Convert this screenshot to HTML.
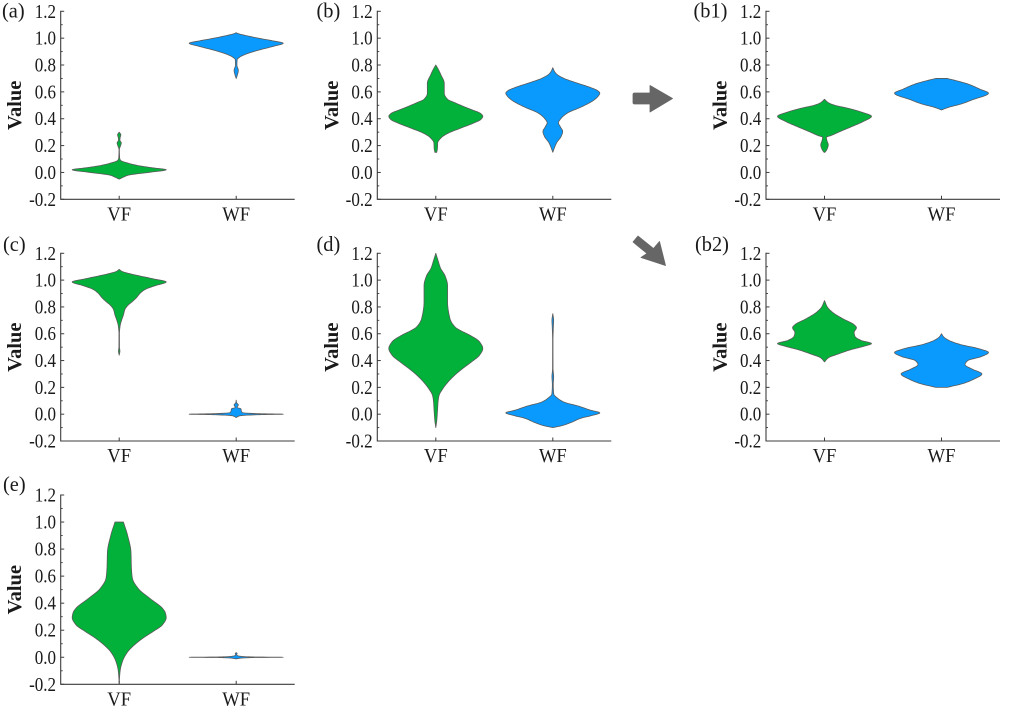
<!DOCTYPE html>
<html lang="en">
<head>
<meta charset="utf-8">
<title>Violin plots of VF and WF values</title>
<style>
html,body{margin:0;padding:0;background:#fff;}
svg{display:block;font-family:"Liberation Serif",serif;filter:blur(0.3px);}
</style>
</head>
<body>
<svg id="figure" xmlns="http://www.w3.org/2000/svg" width="1024" height="707" viewBox="0 0 1024 707">
  <rect x="0" y="0" width="1024" height="707" fill="#ffffff"/>
  <path d="M634.5 93H650V85.5L672.5 98.5L650 112V104H634.5Q633 104 633 102.5V94.5Q633 93 634.5 93Z" fill="#666666" stroke="#666666" stroke-width="0.8" stroke-linejoin="round"/>
  <path d="M638 236L653.5 248.5L659.5 241.5L665.5 265.5L641 257.5L647 253.5L633 242Z" fill="#666666" stroke="#666666" stroke-width="0.8" stroke-linejoin="round"/>
</svg>
<script>
// ---- chart data ----
const categories = ['VF', 'WF'];
const yMin = -0.2;
const yMax = 1.2;
const majorTicks = [-0.2, 0, 0.2, 0.4, 0.6, 0.8, 1.0, 1.2];
const minorTicks = [-0.1, 0.1, 0.3, 0.5, 0.7, 0.9, 1.1];
const tickLabels = ['-0.2', '0.0', '0.2', '0.4', '0.6', '0.8', '1.0', '1.2'];
const yTitle = 'Value';

// Each violin: values along the y axis and the relative density at each value.
const aVfValues = [-0.05, -0.04, -0.02, 0, 0.02, 0.035, 0.05, 0.07, 0.09, 0.11, 0.17, 0.2, 0.22, 0.24, 0.26, 0.28, 0.30];
const aVfDensity = [0, 0.06, 0.2, 0.62, 1, 0.7, 0.42, 0.18, 0.03, 0.01, 0.004, 0.03, 0.045, 0.015, 0.02, 0.035, 0];
const aWfValues = [0.70, 0.72, 0.76, 0.80, 0.84, 0.86, 0.88, 0.91, 0.94, 0.962, 0.98, 1.0, 1.02, 1.03, 1.04];
const aWfDensity = [0, 0.02, 0.045, 0.015, 0.02, 0.08, 0.2, 0.47, 0.8, 1, 0.78, 0.47, 0.2, 0.08, 0];

const bVfValues = [0.15, 0.18, 0.22, 0.26, 0.29, 0.33, 0.37, 0.395, 0.418, 0.44, 0.465, 0.49, 0.52, 0.545, 0.59, 0.63, 0.664, 0.726, 0.77, 0.80];
const bVfDensity = [0.02, 0.035, 0.04, 0.12, 0.25, 0.53, 0.82, 0.96, 1, 0.95, 0.78, 0.6, 0.4, 0.25, 0.18, 0.18, 0.18, 0.11, 0.05, 0];
const bWfValues = [0.15, 0.17, 0.22, 0.27, 0.305, 0.34, 0.37, 0.40, 0.44, 0.49, 0.54, 0.57, 0.59, 0.61, 0.63, 0.67, 0.70, 0.73, 0.75, 0.78];
const bWfDensity = [0, 0.02, 0.08, 0.18, 0.21, 0.16, 0.12, 0.17, 0.3, 0.62, 0.88, 0.97, 1, 0.95, 0.82, 0.48, 0.24, 0.09, 0.04, 0];

const b1VfValues = [0.15, 0.17, 0.205, 0.24, 0.262, 0.275, 0.30, 0.34, 0.38, 0.418, 0.45, 0.478, 0.50, 0.52, 0.545];
const b1VfDensity = [0.01, 0.05, 0.08, 0.05, 0.04, 0.14, 0.3, 0.57, 0.83, 1, 0.78, 0.5, 0.22, 0.08, 0];
const b1WfValues = [0.465, 0.485, 0.51, 0.54, 0.59, 0.62, 0.66, 0.68, 0.70];
const b1WfDensity = [0, 0.15, 0.42, 0.65, 1, 0.82, 0.55, 0.35, 0.12];

const cVfValues = [0.44, 0.47, 0.5, 0.6, 0.66, 0.70, 0.74, 0.78, 0.81, 0.84, 0.87, 0.90, 0.93, 0.96, 0.986, 1.01, 1.03, 1.05, 1.065, 1.08];
const cVfDensity = [0, 0.015, 0.006, 0.005, 0.02, 0.05, 0.09, 0.12, 0.18, 0.28, 0.37, 0.44, 0.55, 0.78, 1, 0.72, 0.45, 0.2, 0.06, 0];
const cWfValues = [-0.025, -0.012, -0.004, 0, 0.004, 0.012, 0.025, 0.04, 0.05, 0.07, 0.085, 0.105];
const cWfDensity = [0, 0.08, 0.45, 1, 0.45, 0.13, 0.11, 0.1, 0.02, 0.045, 0.01, 0];

const dVfValues = [-0.1, -0.05, 0.02, 0.1, 0.14, 0.19, 0.24, 0.29, 0.34, 0.39, 0.44, 0.49, 0.54, 0.59, 0.625, 0.65, 0.715, 0.84, 0.96, 1.03, 1.09, 1.15, 1.2];
const dVfDensity = [0, 0.02, 0.035, 0.05, 0.07, 0.15, 0.26, 0.4, 0.57, 0.76, 0.93, 1, 0.93, 0.72, 0.52, 0.41, 0.3, 0.25, 0.25, 0.2, 0.1, 0.045, 0];
const dWfValues = [-0.1, -0.085, -0.06, -0.03, -0.01, 0.01, 0.03, 0.06, 0.09, 0.12, 0.15, 0.22, 0.28, 0.34, 0.55, 0.65, 0.70, 0.75];
const dWfDensity = [0, 0.2, 0.4, 0.6, 0.83, 1, 0.8, 0.55, 0.24, 0.1, 0.02, 0.01, 0.018, 0.005, 0.004, 0.012, 0.018, 0];

const b2VfValues = [0.39, 0.42, 0.45, 0.48, 0.505, 0.527, 0.55, 0.58, 0.61, 0.645, 0.67, 0.71, 0.76, 0.80, 0.847];
const b2VfDensity = [0, 0.08, 0.3, 0.55, 0.82, 1, 0.78, 0.65, 0.63, 0.68, 0.62, 0.4, 0.17, 0.06, 0];
const b2WfValues = [0.2, 0.23, 0.26, 0.30, 0.335, 0.37, 0.40, 0.43, 0.46, 0.49, 0.52, 0.55, 0.575, 0.6];
const b2WfDensity = [0.12, 0.47, 0.68, 0.86, 0.66, 0.5, 0.56, 0.85, 1, 0.78, 0.4, 0.16, 0.05, 0];

const eVfValues = [-0.19, -0.1, -0.03, 0.04, 0.09, 0.14, 0.19, 0.24, 0.293, 0.33, 0.362, 0.436, 0.51, 0.585, 0.66, 0.78, 0.9, 1.0];
const eVfDensity = [0, 0.02, 0.07, 0.18, 0.32, 0.5, 0.72, 0.92, 1, 0.98, 0.92, 0.65, 0.4, 0.28, 0.26, 0.25, 0.18, 0.09];
const eWfValues = [-0.012, -0.006, -0.002, 0, 0.002, 0.006, 0.012, 0.02, 0.028, 0.034];
const eWfDensity = [0, 0.12, 0.4, 1, 0.4, 0.12, 0.03, 0.01, 0.02, 0];

// ---- drawing ----
const SVG_NS = 'http://www.w3.org/2000/svg';
const figure = document.getElementById('figure');
const MAX_HALF_WIDTH = 47;
const GREEN = '#02b13a';
const BLUE = '#0a99fd';

function line(parent, x1, y1, x2, y2, w) {
  const el = document.createElementNS(SVG_NS, 'line');
  el.setAttribute('x1', x1);
  el.setAttribute('y1', y1);
  el.setAttribute('x2', x2);
  el.setAttribute('y2', y2);
  el.setAttribute('stroke', '#3c3c3c');
  el.setAttribute('stroke-width', w);
  parent.appendChild(el);
  return el;
}

function label(parent, text, x, y, size, anchor, squeeze) {
  const el = document.createElementNS(SVG_NS, 'text');
  el.setAttribute('x', x);
  el.setAttribute('y', y);
  el.setAttribute('font-size', size);
  el.setAttribute('text-anchor', anchor);
  el.setAttribute('fill', '#1a1a1a');
  el.textContent = text;
  parent.appendChild(el);
  if (squeeze) {
    el.setAttribute('textLength', (el.getComputedTextLength() * squeeze).toFixed(2));
    el.setAttribute('lengthAdjust', 'spacingAndGlyphs');
  }
  return el;
}

// Monotone cubic interpolation of density over value, so no overshoot at the tips.
function tangents(xs, ys) {
  const n = xs.length;
  const slopes = [];
  for (let i = 0; i < n - 1; i++) slopes.push((ys[i + 1] - ys[i]) / (xs[i + 1] - xs[i]));
  const m = [slopes[0]];
  for (let i = 1; i < n - 1; i++) {
    if (slopes[i - 1] * slopes[i] <= 0) {
      m.push(0);
    } else {
      const h0 = xs[i] - xs[i - 1];
      const h1 = xs[i + 1] - xs[i];
      const wa = 2 * h1 + h0;
      const wb = h1 + 2 * h0;
      m.push((wa + wb) / (wa / slopes[i - 1] + wb / slopes[i]));
    }
  }
  m.push(slopes[n - 2]);
  return m;
}

function sampleOutline(values, density) {
  const m = tangents(values, density);
  const out = [];
  for (let i = 0; i < values.length - 1; i++) {
    const h = values[i + 1] - values[i];
    const steps = 10;
    for (let s = 0; s < steps; s++) {
      const t = s / steps;
      const t2 = t * t;
      const t3 = t2 * t;
      const d = (2 * t3 - 3 * t2 + 1) * density[i] + (t3 - 2 * t2 + t) * h * m[i] +
                (-2 * t3 + 3 * t2) * density[i + 1] + (t3 - t2) * h * m[i + 1];
      out.push([values[i] + t * h, Math.max(0, d)]);
    }
  }
  out.push([values[values.length - 1], density[density.length - 1]]);
  return out;
}

function drawViolin(parent, name, cx, yScale, values, density, fill) {
  const pts = sampleOutline(values, density);
  const right = pts.map(p => (cx + p[1] * MAX_HALF_WIDTH).toFixed(2) + ' ' + yScale(p[0]).toFixed(2));
  const left = pts.slice().reverse().map(p => (cx - p[1] * MAX_HALF_WIDTH).toFixed(2) + ' ' + yScale(p[0]).toFixed(2));
  const el = document.createElementNS(SVG_NS, 'path');
  
  
  el.setAttribute('d', 'M' + right.concat(left).join('L') + 'Z');
  el.setAttribute('fill', fill);
  el.setAttribute('stroke', '#5a5a5a');
  el.setAttribute('stroke-width', '0.8');
  el.setAttribute('stroke-linejoin', 'round');
  parent.appendChild(el);
}

function drawPanel(id, caption, captionX, captionY, left, right, top, bottom, vfValues, vfDensity, wfValues, wfDensity) {
  const yScale = v => bottom - (v - yMin) / (yMax - yMin) * (bottom - top);
  const xScale = i => left + (right - left) * (i + 0.5) / categories.length;

  const g = document.createElementNS(SVG_NS, 'g');
  
  
  figure.appendChild(g);

  const cap = label(g, caption, captionX, captionY, 21, 'start', 0.97);
  
  

  drawViolin(g, 'violin-' + id + '-vf', xScale(0), yScale, vfValues, vfDensity, GREEN);
  drawViolin(g, 'violin-' + id + '-wf', xScale(1), yScale, wfValues, wfDensity, BLUE);

  const yAxis = line(g, left, top - 0.5, left, bottom + 0.5, 1.1);
  
  
  const xAxis = line(g, left, bottom, right, bottom, 1.1);
  
  

  majorTicks.forEach((v, i) => {
    const t = line(g, left, yScale(v), left + 3.5, yScale(v), 1);
    
    
    const tl = label(g, tickLabels[i], left - 4.7, yScale(v) + 6.5, 20, 'end', 0.85);
    
    
  });
  minorTicks.forEach(v => {
    const t = line(g, left, yScale(v), left + 2, yScale(v), 0.9);
    
    
  });
  categories.forEach((c, i) => {
    const t = line(g, xScale(i), bottom, xScale(i), bottom - 3.5, 1);
    
    
    const tl = label(g, c, xScale(i), bottom + 21, 20, 'middle', 0.93);
    
    
  });

  const tx = left - 39.5;
  const ty = (top + bottom) / 2;
  const title = label(g, yTitle, tx, ty, 20.5, 'middle');
  
  
  title.setAttribute('font-weight', 'bold');
  title.setAttribute('transform', 'rotate(-90 ' + tx + ' ' + ty + ')');
}

drawPanel('a', '(a)', 2, 17.5, 60.7, 294.7, 11.3, 199.3, aVfValues, aVfDensity, aWfValues, aWfDensity);
drawPanel('b', '(b)', 316.5, 17.5, 377.3, 611.3, 11.3, 199.3, bVfValues, bVfDensity, bWfValues, bWfDensity);
drawPanel('b1', '(b1)', 693.5, 17.5, 766, 1000, 11.3, 199.3, b1VfValues, b1VfDensity, b1WfValues, b1WfDensity);
drawPanel('c', '(c)', 3, 251, 60.7, 294.7, 253.3, 441, cVfValues, cVfDensity, cWfValues, cWfDensity);
drawPanel('d', '(d)', 316.5, 251, 377.3, 611.3, 253.3, 441, dVfValues, dVfDensity, dWfValues, dWfDensity);
drawPanel('b2', '(b2)', 695, 251, 766, 1000, 253.3, 441, b2VfValues, b2VfDensity, b2WfValues, b2WfDensity);
drawPanel('e', '(e)', 3, 491, 60.7, 294.7, 495, 684.3, eVfValues, eVfDensity, eWfValues, eWfDensity);
</script>
</body>
</html>
